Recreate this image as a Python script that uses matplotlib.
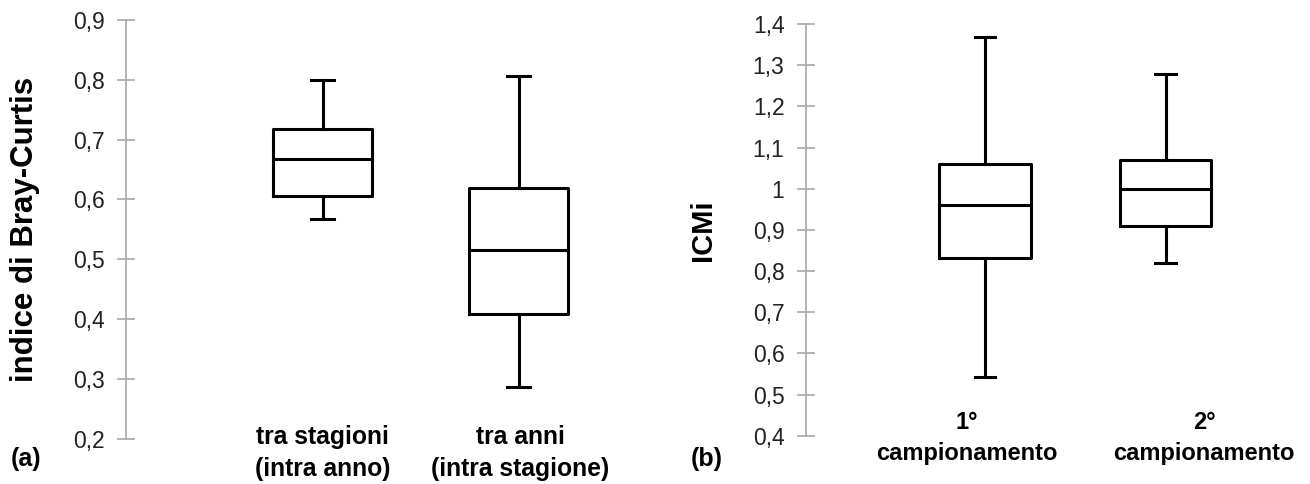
import matplotlib
matplotlib.use('Agg')
import matplotlib.pyplot as plt

plt.rcParams['font.family'] = ['Liberation Sans', 'DejaVu Sans']

# panel (a): Bray-Curtis
cat_a = ['tra stagioni\n(intra anno)', 'tra anni\n(intra stagione)']
whislo_a = [0.567, 0.287]
q1_a = [0.605, 0.408]
med_a = [0.668, 0.515]
q3_a = [0.717, 0.619]
whishi_a = [0.800, 0.806]
yticks_a = [0.2, 0.3, 0.4, 0.5, 0.6, 0.7, 0.8, 0.9]

# panel (b): ICMi
cat_b = ['1°\ncampionamento', '2°\ncampionamento']
whislo_b = [0.542, 0.820]
q1_b = [0.832, 0.910]
med_b = [0.960, 1.000]
q3_b = [1.060, 1.070]
whishi_b = [1.369, 1.279]
yticks_b = [0.4, 0.5, 0.6, 0.7, 0.8, 0.9, 1.0, 1.1, 1.2, 1.3, 1.4]

W, H = 1310, 484
fig = plt.figure(figsize=(W / 100, H / 100), dpi=100)


def fmt(v):
    s = ('%.1f' % v).replace('.', ',')
    if s.endswith(',0'):
        s = s[:-2]
    return s


def panel(rect, lo, q1, med, q3, hi, cats, yticks, xlim, ylabel, letter,
          pad, xfs, label_shift):
    ax = fig.add_axes([rect[0] / W, (H - rect[3]) / H,
                       (rect[2] - rect[0]) / W, (rect[3] - rect[1]) / H])
    stats = []
    for i in range(len(cats)):
        stats.append({'whislo': lo[i], 'q1': q1[i], 'med': med[i],
                      'q3': q3[i], 'whishi': hi[i]})
    ls = dict(color='black', linewidth=2.2)
    pos = [1, 2]
    ax.bxp(stats, positions=pos, widths=0.505, capwidths=0.115,
           showfliers=False, boxprops=ls, medianprops=ls,
           whiskerprops=ls, capprops=ls)
    ax.set_xlim(*xlim)
    ax.set_ylim(yticks[0], yticks[-1])
    for s in ['top', 'right', 'bottom']:
        ax.spines[s].set_visible(False)
    ax.spines['left'].set_color('#a8a8a8')
    ax.spines['left'].set_linewidth(1.2)
    ax.set_yticks(yticks)
    ax.set_yticklabels([fmt(v) for v in yticks], fontsize=16.5, color='#222222')
    ax.tick_params(axis='y', direction='inout', length=13, width=1.2,
                   color='#a8a8a8', pad=9)
    # category labels (slightly offset from the boxes, as in the original)
    ax.set_xticks([p + d for p, d in zip(pos, label_shift)])
    ax.set_xticklabels(cats, fontsize=xfs, fontweight='bold',
                       linespacing=1.45)
    ax.tick_params(axis='x', length=0, pad=pad)
    ax.set_ylabel(ylabel, fontsize=21, fontweight='bold')
    ax.text(letter[0] / W, (H - letter[1]) / H, letter[2], transform=fig.transFigure,
            fontsize=18, fontweight='bold', ha='center', va='center')
    return ax


ax1 = panel((126, 20, 650, 438.7), whislo_a, q1_a, med_a, q3_a, whishi_a,
            cat_a, yticks_a, (-0.003, 2.671), 'indice di Bray-Curtis',
            (26, 459, '(a)'), -10, 17.8, (0.0, 0.01))
ax1.yaxis.set_label_coords(-0.164, 0.5)
ax1.yaxis.label.set_fontsize(22.5)

ax2 = panel((806, 24, 1300, 435.7), whislo_b, q1_b, med_b, q3_b, whishi_b,
            cat_b, yticks_b, (0.008, 2.745), 'ICMi',
            (707, 459, '(b)'), -18, 17, (-0.10, 0.213))
ax2.yaxis.set_label_coords(-0.18, 0.5)

fig.savefig('out.png', dpi=100)
